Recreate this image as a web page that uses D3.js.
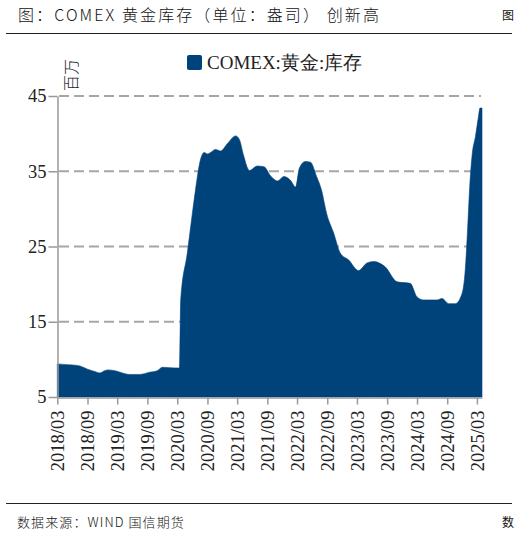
<!DOCTYPE html>
<html><head><meta charset="utf-8">
<script src="https://cdn.jsdelivr.net/npm/d3@7/dist/d3.min.js"></script>
<style>
html,body{margin:0;padding:0;background:#fff;overflow:hidden;}
svg{display:block;}
</style></head>
<body>
<svg id="c" width="515" height="536"></svg>
<script>
const dates = ["2018-03-01","2018-05-01","2018-07-01","2018-08-01","2018-09-01","2018-10-15","2018-11-15","2018-12-15",
"2019-01-01","2019-02-15","2019-04-01","2019-05-15","2019-07-15","2019-09-15","2019-11-01","2019-12-01",
"2020-01-15","2020-03-15","2020-03-22","2020-05-01","2020-06-01","2020-06-20","2020-07-20","2020-08-12","2020-09-01",
"2020-09-20","2020-10-20","2020-11-20","2021-01-01","2021-02-20","2021-03-15","2021-04-08","2021-05-15","2021-07-01",
"2021-08-12","2021-09-20","2021-11-03","2021-12-10","2022-01-20","2022-02-20","2022-03-15","2022-04-20","2022-05-22",
"2022-06-28","2022-07-28","2022-08-28","2022-10-10","2022-11-20","2023-01-10","2023-03-10","2023-05-01","2023-06-10",
"2023-08-20","2023-11-01","2024-01-20","2024-03-01","2024-04-10","2024-07-01","2024-08-01","2024-09-10","2024-10-20",
"2024-12-01","2024-12-20","2025-01-03","2025-01-15","2025-02-01","2025-02-20","2025-03-10","2025-03-20","2025-04-01"];
const values = [9.4,9.3,9.2,9.0,8.7,8.4,8.2,8.5,
8.6,8.5,8.2,8.0,8.0,8.3,8.5,8.95,
8.9,8.85,17.9,24.1,29.4,32.5,36.5,37.5,37.3,
37.5,37.9,37.7,38.7,39.7,39.2,37.2,35.1,35.7,
35.6,34.4,33.7,34.3,33.8,32.9,35.4,36.3,36.2,
34.3,32.5,29.4,26.8,24.1,23.2,21.8,22.8,23.0,
22.3,20.3,20.1,18.3,17.9,17.9,18.1,17.4,17.4,
18.8,21.9,27.2,32.5,37.4,39.6,42.2,43.4,43.4];
const xTickLabels = ["2018/03","2018/09","2019/03","2019/09","2020/03","2020/09","2021/03","2021/09",
"2022/03","2022/09","2023/03","2023/09","2024/03","2024/09","2025/03"];
const yTicks = [5,15,25,35,45];
const seriesName = "COMEX:黄金:库存";
const titleText = "图：COMEX 黄金库存（单位：盎司） 创新高";
const sourceText = "数据来源：WIND 国信期货";
const unitText = "百万";

const parse = d3.timeParse("%Y-%m-%d");
const parseTick = d3.timeParse("%Y/%m");
const data = dates.map((d,i)=>({date:parse(d), v:values[i]}));

const svg = d3.select("#c");
const fill = "#00427A";
const serif = "'Liberation Serif','Times New Roman',serif";
const cjk = "'Noto Sans CJK SC','Noto Sans',sans-serif";

const x = d3.scaleTime().domain([parse("2018-03-01"), parse("2025-04-01")]).range([57.3, 482]);
const y = d3.scaleLinear().domain([5,45]).range([397,96]);

// title
svg.append("text").attr("x",18).attr("y",21).attr("font-family",cjk).attr("font-size",16)
  .attr("font-weight",300).attr("letter-spacing",2.1).attr("fill","#111").text(titleText);
svg.append("text").attr("x",502).attr("y",20).attr("font-family",cjk).attr("font-size",12).attr("fill","#111").text("图");
svg.append("line").attr("x1",6).attr("x2",512).attr("y1",33.5).attr("y2",33.5).attr("stroke","#222").attr("stroke-width",1.2);

// gridlines
svg.append("g").selectAll("line").data(yTicks.filter(t=>t!==5)).join("line")
  .attr("x1",59).attr("x2",481).attr("y1",d=>y(d)).attr("y2",d=>y(d))
  .attr("stroke","#a6a6a6").attr("stroke-width",1.8).attr("stroke-dasharray","10,5");

// area
const area = d3.area().x(d=>x(d.date)).y0(y(5)).y1(d=>y(d.v)).curve(d3.curveMonotoneX);
svg.append("path").datum(data).attr("d",area).attr("fill",fill).attr("stroke",fill).attr("stroke-width",0.6);

// y axis
const yAxis = d3.axisLeft(y).tickValues(yTicks).tickSize(9).tickSizeOuter(0).tickPadding(2).tickFormat(d3.format("d"));
const gy = svg.append("g").attr("transform","translate(57.5,0)").call(yAxis);
gy.select(".domain").attr("stroke","#999").attr("stroke-width",1.5);
gy.selectAll(".tick line").attr("stroke","#999").attr("stroke-width",1.5);
gy.selectAll(".tick text").attr("font-family",serif).attr("font-size",18.5).attr("fill","#222");

// x axis
const xAxis = d3.axisBottom(x).tickValues(xTickLabels.map(parseTick)).tickSize(7).tickSizeOuter(0).tickFormat(d3.timeFormat("%Y/%m"));
const gx = svg.append("g").attr("transform","translate(0,397.5)").call(xAxis);
gx.select(".domain").attr("stroke","#999").attr("stroke-width",1.5);
gx.selectAll(".tick line").attr("stroke","#999").attr("stroke-width",1.5);
gx.selectAll(".tick text").attr("font-family",serif).attr("font-size",18.5).attr("fill","#222")
  .attr("text-anchor","end").attr("transform","translate(0,13) rotate(-90)").attr("x",0).attr("y",0).attr("dy","0.35em");

// unit label
svg.append("text").attr("transform","translate(71.5,91) rotate(-90)").attr("font-family",cjk).attr("font-size",16)
  .attr("font-weight",300).attr("dy","0.35em").attr("fill","#222").text(unitText);

// legend
svg.append("rect").attr("x",187).attr("y",55).attr("width",15).attr("height",15).attr("rx",2).attr("fill",fill);
svg.append("text").attr("x",207).attr("y",69).attr("font-family",serif).attr("font-size",19).attr("fill","#222").text(seriesName);

// footer
svg.append("line").attr("x1",6).attr("x2",512).attr("y1",503.5).attr("y2",503.5).attr("stroke","#222").attr("stroke-width",1.2);
svg.append("text").attr("x",17).attr("y",527).attr("font-family",cjk).attr("font-size",13).attr("font-weight",300)
  .attr("letter-spacing",1.1).attr("fill","#111").text(sourceText);
svg.append("text").attr("x",502).attr("y",527).attr("font-family",cjk).attr("font-size",12).attr("fill","#111").text("数");
</script>
</body></html>
